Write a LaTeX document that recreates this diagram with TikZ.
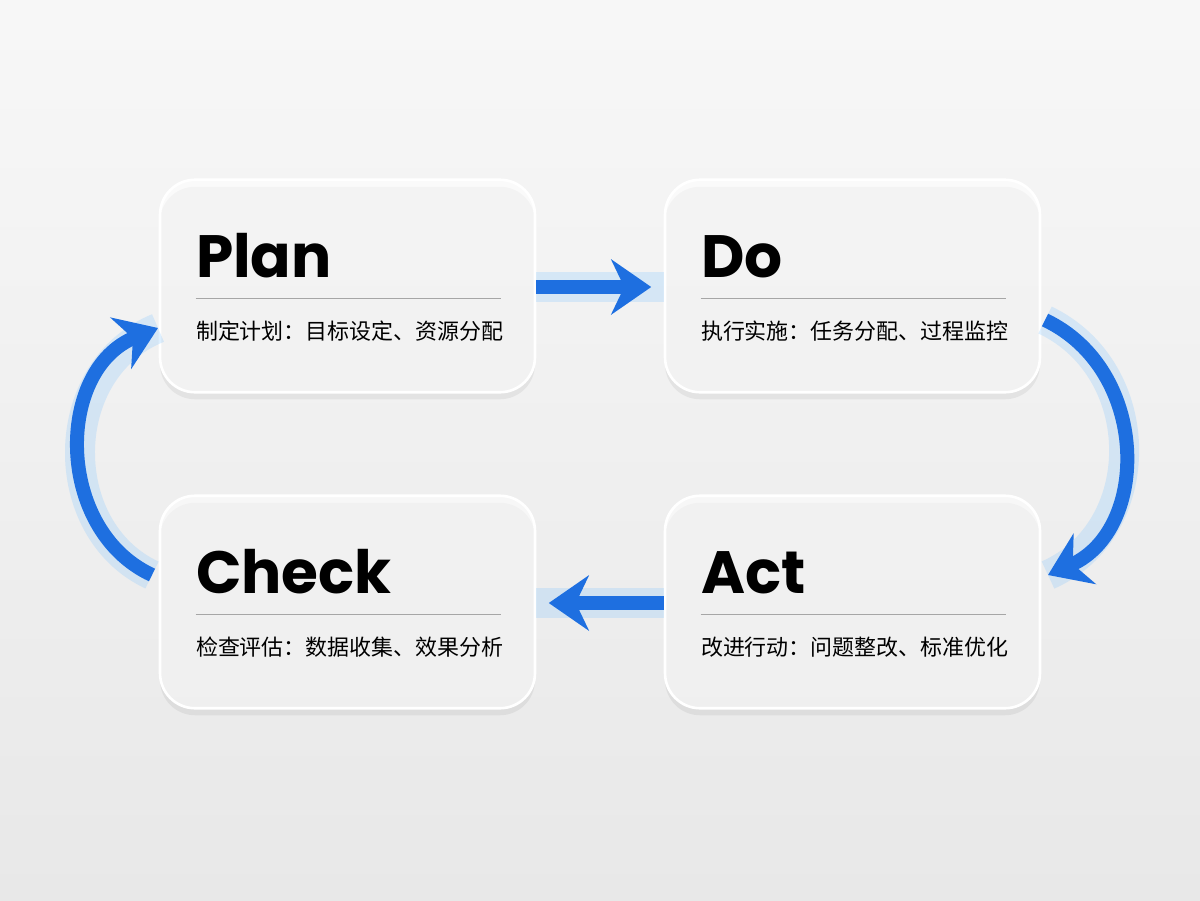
\documentclass[tikz,border=0pt]{standalone}
\usepackage{fontspec}
\setmainfont{Poppins}
\newfontfamily\cjk{Noto Sans CJK SC}
\usetikzlibrary{arrows.meta,shadows}
\definecolor{flowblue}{HTML}{1E6FE0}
\definecolor{glowblue}{HTML}{7FC4FF}
\tikzset{
  stagebox/.style={draw=white, line width=1.5pt, rounded corners=0.7cm, fill=white, fill opacity=0.55,
    minimum width=7.5cm, minimum height=4.25cm, drop shadow={opacity=0.12, shadow xshift=0pt, shadow yshift=-4pt}},
  stagetitle/.style={anchor=base west, font=\bfseries\fontsize{34}{34}\selectfont, inner sep=0pt},
  stagetext/.style={anchor=west, font=\cjk\fontsize{12.5}{14}\selectfont, inner sep=0pt},
  flowarrow/.style={draw=flowblue, line width=0.28cm, -{Stealth[length=0.8cm,width=1.1cm]}},
  glow/.style={draw=glowblue, line width=0.6cm, opacity=0.25}
}
\begin{document}
\begin{tikzpicture}[x=0.02cm,y=-0.02cm]
\shade[top color=gray!6, bottom color=gray!18] (0,0) rectangle (1200,900);
% boxes
\node[stagebox] (plan) at (347.5,286) {};
\node[stagebox] (do) at (852.5,286) {};
\node[stagebox] (check) at (347.5,602) {};
\node[stagebox] (act) at (852.5,602) {};
% texts
\foreach \n/\t/\s in {plan/Plan/制定计划：目标设定、资源分配, do/Do/执行实施：任务分配、过程监控,
    check/Check/检查评估：数据收集、效果分析, act/Act/改进行动：问题整改、标准优化}{
  \node[stagetitle] (\n-title) at ([xshift=0.74cm,yshift=0.18cm]\n.north west |- \n.center) {\t};
  \draw[gray!70, line width=0.6pt] ([xshift=0.74cm,yshift=-0.25cm]\n.west) -- ([xshift=-0.7cm,yshift=-0.25cm]\n.east);
  \node[stagetext] (\n-text) at ([xshift=0.74cm,yshift=-0.9cm]\n.west) {\s};
}
% connectors
\coordinate (p1) at (plan.east |- 0,287);
\coordinate (d1) at (do.west |- 0,287);
\draw[glow] (p1) -- (d1);
\draw[flowarrow] (p1) -- ([xshift=-0.25cm]d1);
\coordinate (a1) at (act.west |- 0,603);
\coordinate (c1) at (check.east |- 0,603);
\draw[glow] (a1) -- (c1);
\draw[flowarrow] (a1) -- ([xshift=0.25cm]c1);
\coordinate (d2) at (1045,320);
\coordinate (a2) at (1048,575);
\draw[glow] (d2) .. controls (1150,370) and (1150,530) .. (a2);
\draw[flowarrow] (d2) .. controls (1150,370) and (1150,530) .. (a2);
\coordinate (c2) at (152,575);
\coordinate (p2) at (158,328);
\draw[glow] (c2) .. controls (55,530) and (55,370) .. (p2);
\draw[flowarrow] (c2) .. controls (55,530) and (55,370) .. (p2);
\end{tikzpicture}
\end{document}
